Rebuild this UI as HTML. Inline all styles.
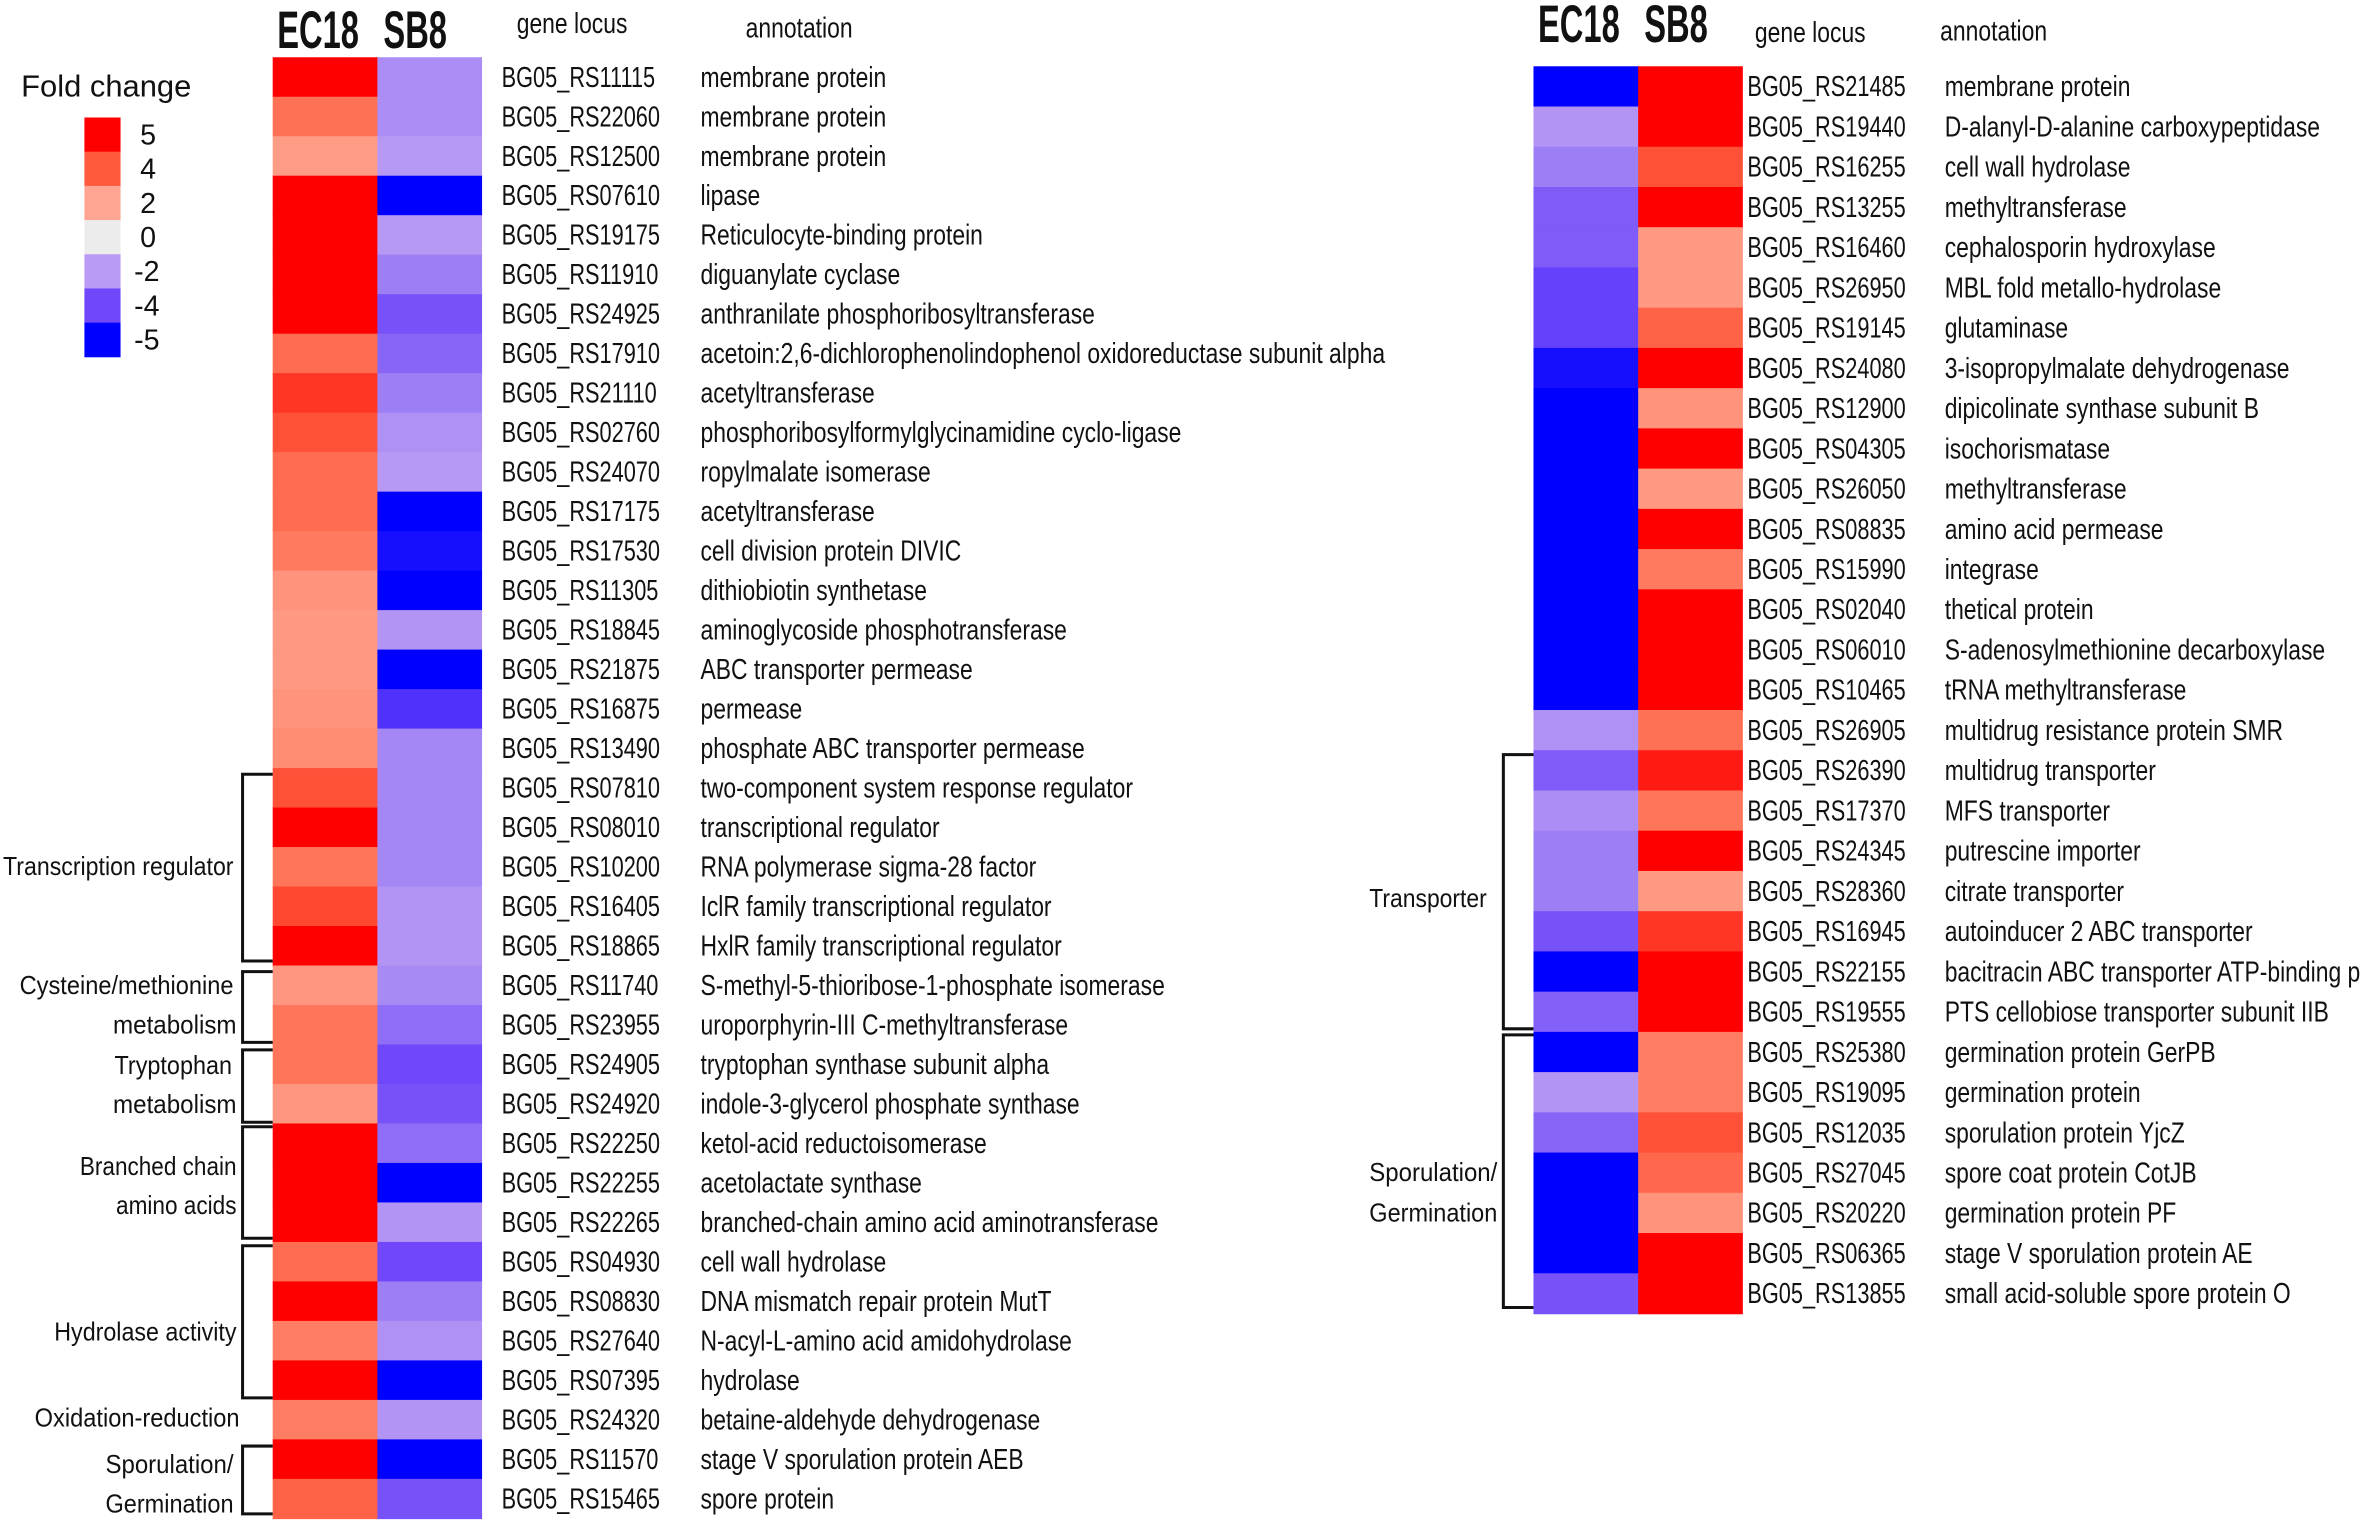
<!DOCTYPE html>
<html><head><meta charset="utf-8"><style>
html,body{margin:0;padding:0;background:#fff;}
svg{display:block;}
text{font-family:"Liberation Sans",sans-serif;fill:#111;}
</style></head><body>
<svg id="chart" width="2362" height="1525" viewBox="0 0 1568 1012.4" xmlns="http://www.w3.org/2000/svg">
<g id="left"></g>
<g id="right"></g>
<g id="legend"></g>
</svg>
<script>
const leftLoci=["BG05_RS11115","BG05_RS22060","BG05_RS12500","BG05_RS07610","BG05_RS19175","BG05_RS11910","BG05_RS24925","BG05_RS17910","BG05_RS21110","BG05_RS02760","BG05_RS24070","BG05_RS17175","BG05_RS17530","BG05_RS11305","BG05_RS18845","BG05_RS21875","BG05_RS16875","BG05_RS13490","BG05_RS07810","BG05_RS08010","BG05_RS10200","BG05_RS16405","BG05_RS18865","BG05_RS11740","BG05_RS23955","BG05_RS24905","BG05_RS24920","BG05_RS22250","BG05_RS22255","BG05_RS22265","BG05_RS04930","BG05_RS08830","BG05_RS27640","BG05_RS07395","BG05_RS24320","BG05_RS11570","BG05_RS15465"];
const leftAnno=["membrane protein","membrane protein","membrane protein","lipase","Reticulocyte-binding protein","diguanylate cyclase","anthranilate phosphoribosyltransferase","acetoin:2,6-dichlorophenolindophenol oxidoreductase subunit alpha","acetyltransferase","phosphoribosylformylglycinamidine cyclo-ligase","ropylmalate isomerase","acetyltransferase","cell division protein DIVIC","dithiobiotin synthetase","aminoglycoside phosphotransferase","ABC transporter permease","permease","phosphate ABC transporter permease","two-component system response regulator","transcriptional regulator","RNA polymerase sigma-28 factor","IclR family transcriptional regulator","HxlR family transcriptional regulator","S-methyl-5-thioribose-1-phosphate isomerase","uroporphyrin-III C-methyltransferase","tryptophan synthase subunit alpha","indole-3-glycerol phosphate synthase","ketol-acid reductoisomerase","acetolactate synthase","branched-chain amino acid aminotransferase","cell wall hydrolase","DNA mismatch repair protein MutT","N-acyl-L-amino acid amidohydrolase","hydrolase","betaine-aldehyde dehydrogenase","stage V sporulation protein AEB","spore protein"];
const leftEC18=[5,3.5,2.3,5,5,5,5,3.6,4.4,4.1,3.6,3.6,3.3,2.6,2.4,2.4,2.6,2.8,4.1,5,3.4,4.2,5,2.5,3.4,3.4,2.5,5,5,5,3.6,5,3.2,5,3.2,5,3.8];
const leftSB8=[-2.4,-2.4,-2.1,-5,-2.1,-2.8,-3.8,-3.4,-2.8,-2.3,-2.1,-5,-4.8,-5,-2.2,-5,-4.3,-2.6,-2.6,-2.6,-2.6,-2.2,-2.2,-2.5,-3.2,-4,-3.8,-3.2,-5,-2.2,-4,-2.8,-2.3,-5,-2.2,-5,-3.8];
const rightLoci=["BG05_RS21485","BG05_RS19440","BG05_RS16255","BG05_RS13255","BG05_RS16460","BG05_RS26950","BG05_RS19145","BG05_RS24080","BG05_RS12900","BG05_RS04305","BG05_RS26050","BG05_RS08835","BG05_RS15990","BG05_RS02040","BG05_RS06010","BG05_RS10465","BG05_RS26905","BG05_RS26390","BG05_RS17370","BG05_RS24345","BG05_RS28360","BG05_RS16945","BG05_RS22155","BG05_RS19555","BG05_RS25380","BG05_RS19095","BG05_RS12035","BG05_RS27045","BG05_RS20220","BG05_RS06365","BG05_RS13855"];
const rightAnno=["membrane protein","D-alanyl-D-alanine carboxypeptidase","cell wall hydrolase","methyltransferase","cephalosporin hydroxylase","MBL fold metallo-hydrolase","glutaminase","3-isopropylmalate dehydrogenase","dipicolinate synthase subunit B","isochorismatase","methyltransferase","amino acid permease","integrase","thetical protein","S-adenosylmethionine decarboxylase","tRNA methyltransferase","multidrug resistance protein SMR","multidrug transporter","MFS transporter","putrescine importer","citrate transporter","autoinducer 2 ABC transporter","bacitracin ABC transporter ATP-binding p","PTS cellobiose transporter subunit IIB","germination protein GerPB","germination protein","sporulation protein YjcZ","spore coat protein CotJB","germination protein PF","stage V sporulation protein AE","small acid-soluble spore protein O"];
const rightEC18=[-5,-2.2,-2.8,-3.6,-3.6,-4.1,-4.1,-4.8,-5,-5,-5,-5,-5,-5,-5,-5,-2.3,-3.6,-2.4,-2.8,-2.8,-3.8,-5,-3.5,-5,-2.2,-3.4,-5,-5,-5,-3.8];
const rightSB8=[5,5,4.1,5,2.4,2.4,3.8,5,2.6,5,2.4,5,3.3,5,5,5,3.5,4.7,3.4,5,2.4,4.4,5,5,3.2,3.2,4.1,3.7,2.6,5,5];
const legendValues=[5,4,2,0,-2,-4,-5];
const legendLabels=["5","4","2","0","-2","-4","-5"];

const NS="http://www.w3.org/2000/svg";
const stops=[[5,[255,0,0]],[4,[255,90,62]],[3,[255,135,108]],[2,[255,165,145]],[0,[236,236,236]],[-2,[185,155,245]],[-3,[150,120,245]],[-4,[112,72,250]],[-5,[0,0,255]]];
function color(v){
  v=Math.max(-5,Math.min(5,v));
  for(let i=0;i<stops.length-1;i++){
    const [a,ca]=stops[i],[b,cb]=stops[i+1];
    if(v<=a&&v>=b){const t=(a-v)/(a-b);return `rgb(${ca.map((c,k)=>Math.round(c+(cb[k]-c)*t)).join(',')})`;}
  }
  return 'rgb(0,0,255)';
}
function mk(parent,tag,attrs,txt){const e=document.createElementNS(NS,tag);for(const k in attrs)e.setAttribute(k,attrs[k]);if(txt!==undefined)e.textContent=txt;parent.appendChild(e);return e;}
function condText(parent,x,y,s,size,sx,bold){
  return mk(parent,'text',{transform:`translate(${x},${y}) scale(${sx},1)`,'font-size':size,'font-weight':bold?'bold':'normal'},s);
}
function panel(g,loci,anno,ec,sb,x0,top,bottom,lx,ax,hdr){
  const n=loci.length,rh=(bottom-top)/n,cw=69.5;
  const yScale=i=>top+i*rh;
  for(let i=0;i<n;i++){
    const r1=mk(g,'rect',{x:x0,y:yScale(i),width:cw+0.5,height:rh+0.5,fill:color(ec[i])});
    
    
    const r2=mk(g,'rect',{x:x0+cw,y:yScale(i),width:cw,height:rh+0.5,fill:color(sb[i])});
    
    
    const cy=yScale(i)+rh/2+6.5;
    const t1=condText(g,lx,cy,loci[i],19,0.76);
    
    
    const t2=condText(g,ax,cy,anno[i],19,0.8);
    
    
  }
  const h1=condText(g,x0+3,hdr[0],'EC18',35,0.62,true);
  
  
  const h2=condText(g,x0+cw+4,hdr[0],'SB8',35,0.62,true);
  
  
  const h3=condText(g,hdr[1],hdr[2],'gene locus',19,0.8);
  
  
  const h4=condText(g,hdr[3],hdr[4],'annotation',19,0.8);
  
  
  return yScale;
}
function bracket(g,x,x2,y1,y2){
  const p=mk(g,'path',{d:`M${x2},${y1}H${x}V${y2}H${x2}`,fill:'none',stroke:'#111','stroke-width':2});
  
  
}
function glabel(g,x,y,s,len,anchor){
  const t=mk(g,'text',{x:x,y:y,'font-size':17,'text-anchor':anchor||'end',textLength:len,lengthAdjust:'spacingAndGlyphs'},s);
  
  
}
const L=document.getElementById('left'),R=document.getElementById('right'),G=document.getElementById('legend');
panel(L,leftLoci,leftAnno,leftEC18,leftSB8,181,38,1008,333,465,[32,343,22,495,25]);
panel(R,rightLoci,rightAnno,rightEC18,rightSB8,1018,44,872,1160,1291,[28,1165,28,1288,27]);
[[514,638],[645,692],[697,745],[748,822],[827,928],[960,1005]].forEach(b=>bracket(L,161,181,b[0],b[1]));
glabel(L,155,581,'Transcription regulator',153);
glabel(L,155,660,'Cysteine/methionine',142);
glabel(L,157,686,'metabolism',82);
glabel(L,154,713,'Tryptophan',78);
glabel(L,157,739,'metabolism',82);
glabel(L,157,780,'Branched chain',104);
glabel(L,157,806,'amino acids',80);
glabel(L,157,890,'Hydrolase activity',121);
glabel(L,159,947,'Oxidation-reduction',136);
glabel(L,155,978,'Sporulation/',85);
glabel(L,155,1004,'Germination',85);
[[501,683],[687,868]].forEach(b=>bracket(R,998,1018,b[0],b[1]));
glabel(R,909,602,'Transporter',78,'start');
glabel(R,909,784,'Sporulation/',85,'start');
glabel(R,909,811,'Germination',85,'start');
const lt=mk(G,'text',{x:14,y:64,'font-size':20,textLength:113,lengthAdjust:'spacingAndGlyphs'},'Fold change');


const sh=22.7;
legendValues.forEach((v,i)=>{
  const r=mk(G,'rect',{x:56,y:78+i*sh,width:24,height:sh+0.3,fill:color(v)});
  
  
  const t=mk(G,'text',{x:legendLabels[i].startsWith('-')?89:93,y:78+i*sh+sh/2+6.5,'font-size':19},legendLabels[i]);
  
  
});
</script>
</body></html>
